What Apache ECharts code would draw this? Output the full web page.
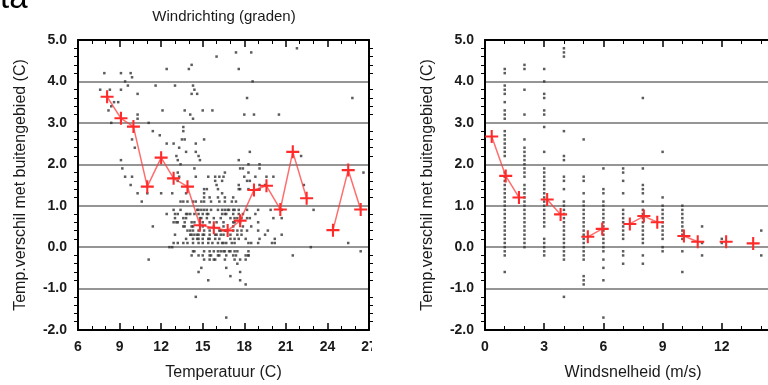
<!DOCTYPE html>
<html>
<head>
<meta charset="utf-8">
<script src="https://cdn.jsdelivr.net/npm/echarts@6/dist/echarts.min.js"></script>
<style>html,body{margin:0;padding:0;background:#fff;}#c{width:768px;height:385px;}</style>
</head>
<body>
<div id="c"></div>
<script>
// ---- Data ----
const tempTicks = [6, 9, 12, 15, 18, 21, 24, 27];
const windTicks = [0, 3, 6, 9, 12, 15];
const yTicks = [-2, -1, 0, 1, 2, 3, 4, 5];

// Left panel: bin means (temperature, difference); '-' = missing bin
const tempMeanX = [8.1, 9.1, 10.0, 11.0, 12.0, 12.9, 13.9, 14.8, 15.8, 16.8, 17.7, 18.7, 19.6, 20.6, 21.5, 22.5, 23.5, 24.4, 25.5, 26.4];
const tempMeanY = [3.63, 3.11, 2.91, 1.46, 2.16, 1.66, 1.46, 0.53, 0.47, 0.40, 0.64, 1.38, 1.48, 0.91, 2.30, 1.18, '-', 0.41, 1.86, 0.91];

// Left panel: individual observations [temperature, difference]
const tempDots = [
[16.0,4.6],[12.4,4.3],[14.0,4.3],[14.2,4.4],[7.9,4.2],[9.1,4.2],[9.8,4.2],[9.9,4.1],[9.4,4.0],[9.6,3.9],[11.6,3.9],[13.0,3.9],[14.3,3.9],
[7.6,3.8],[8.3,3.8],[9.1,3.8],[10.3,3.7],[14.2,3.7],[14.6,3.7],[14.4,3.8],[8.6,3.5],[8.9,3.5],[8.4,3.4],[8.2,3.3],[10.3,3.2],[10.3,3.1],
[12.1,3.3],[13.7,3.3],[14.1,3.2],[14.3,3.1],[15.0,3.3],[15.7,3.3],[8.4,3.0],[11.1,3.0],[13.6,2.9],[13.6,2.8],[11.4,2.8],[11.9,2.7],
[13.5,2.6],[13.7,2.6],[15.1,2.6],[12.4,2.5],[12.9,2.5],[14.5,2.5],[9.9,2.6],[10.1,2.4],[13.3,2.4],[13.8,2.3],[14.5,2.3],[14.7,2.2],
[14.8,2.1],[13.1,2.2],[13.2,2.1],[9.1,2.1],[9.2,1.9],[13.4,2.0],[9.4,1.7],[9.9,1.7],[9.8,1.5],[13.2,1.8],[13.3,1.7],[14.5,1.7],
[15.4,1.7],[15.9,1.7],[16.5,1.7],[14.4,1.9],[15.1,1.4],[15.3,1.4],[16.0,1.5],[16.1,1.4],
[17.4,4.7],[18.5,4.7],[21.8,4.8],[17.6,4.3],[18.6,4.0],[18.2,3.6],[25.8,3.6],[18.0,3.2],[18.7,3.2],[20.5,3.2],[18.4,2.3],[22.1,2.2],
[17.6,2.1],[17.7,1.9],[17.9,1.9],[18.3,2.0],[19.1,2.0],[19.1,1.9],[16.6,1.8],[16.2,1.7],[16.4,1.6],[18.3,1.8],[18.8,1.7],
[19.6,1.7],[20.1,1.7],[18.0,1.7],[18.2,1.6],[17.6,1.5],[17.7,1.4],[19.1,1.5],[19.1,1.4],[19.5,1.5],[26.6,1.8],[22.3,1.5],
[10.3,1.3],[10.6,1.1],[11.0,1.3],[12.0,1.3],[12.8,1.3],[13.2,1.6],[13.8,1.3],[15.1,1.3],[15.1,1.2],[15.9,1.6],[15.5,1.2],
[16.1,1.2],[16.4,1.3],[16.6,1.2],
[13.4,1.1],[13.6,1.1],[13.9,1.1],[14.3,1.1],[14.5,1.1],[14.9,1.1],[15.1,1.1],[15.6,1.1],[16.2,1.1],[16.6,1.1],
[11.4,0.5],[12.4,0.8],[13.0,0.8],[13.2,0.8],[13.8,0.8],[14.1,0.8],[14.4,0.8],[13.6,0.7],[13.7,0.6],[12.9,0.6],[13.1,0.6],[14.4,0.6],
[14.9,0.7],[15.3,0.8],[14.7,0.9],[14.9,0.9],[15.3,0.9],[15.6,0.9],[16.1,0.9],[16.6,0.9],
[13.7,0.5],[14.2,0.5],[13.9,0.4],[13.0,0.3],
[14.2,0.3],[14.4,0.3],[14.7,0.3],[15.1,0.3],[15.5,0.3],[15.9,0.3],[16.3,0.3],
[14.3,0.2],[14.7,0.2],[15.0,0.2],[15.5,0.2],[15.9,0.2],
[12.9,0.1],[13.2,0.1],[13.6,0.1],[13.9,0.1],[14.3,0.1],[14.7,0.1],[15.0,0.1],[15.4,0.1],[15.7,0.1],[16.1,0.1],[16.5,0.1],
[14.3,0.4],[14.7,0.4],[15.1,0.4],[15.5,0.4],[16.2,0.4],[16.6,0.4],
[14.4,-0.1],[15.1,-0.1],[15.5,-0.1],[16.1,-0.1],[16.5,-0.1],
[14.7,-0.2],[15.0,-0.2],[15.6,-0.2],[16.1,-0.2],[16.7,-0.2],
[11.1,-0.3],[15.1,-0.3],[15.9,-0.3],[16.6,-0.3],[14.9,-0.5],[14.7,-0.6],[15.4,-0.8],[14.5,-1.2],[16.7,-1.7],[12.6,0.0],[12.8,0.0],
[17.6,1.4],[17.2,1.2],[17.4,1.1],[17.1,1.1],[18.4,1.6],[18.3,1.4],
[16.4,0.9],[16.9,0.9],[17.2,0.9],[17.6,0.9],
[16.4,0.8],[16.7,0.8],[17.2,0.8],[17.6,0.8],[17.9,0.8],
[17.0,0.7],[17.3,0.7],[17.8,0.7],[18.2,0.7],
[16.5,0.6],[17.2,0.6],[17.7,0.6],[19.0,0.6],[18.4,0.7],[18.5,0.5],
[18.8,0.8],[19.9,0.9],[20.1,0.7],[20.7,0.7],[20.7,0.9],[23.0,0.9],
[16.3,0.4],[17.5,0.4],[17.8,0.4],[19.0,0.4],[19.7,0.4],
[19.1,0.2],[19.5,0.3],[20.2,0.2],[20.7,0.3],[17.0,0.3],[17.5,0.3],[17.8,0.3],[17.3,0.2],[18.1,0.2],
[16.4,0.1],[16.7,0.1],[17.1,0.1],[17.3,0.1],[18.3,0.1],[18.5,0.1],[19.0,0.1],[20.0,0.1],[20.2,0.1],[25.5,0.1],[22.8,0.0],[26.4,-0.1],
[16.3,-0.1],[16.6,-0.1],[17.0,-0.1],[17.3,-0.1],
[17.2,-0.2],[17.4,-0.2],[18.1,-0.2],[18.3,-0.2],
[17.3,-0.3],[18.1,-0.3],[21.5,-0.2],[16.7,-0.5],[17.5,-0.4],[17.7,-0.6],[17.0,-0.7],[17.7,-0.8],[18.1,-0.9],
[12.9,0.9],[13.4,0.9],[14.6,0.9],[15.1,0.9],[16.8,0.9],[17.3,0.9],[18.2,0.9],[19.0,0.9],
[13.9,0.8],[14.7,0.8],[15.0,0.8],[15.4,0.8],[16.6,0.8],
[13.0,0.7],[13.8,0.7],[14.8,0.7],[15.3,0.7],[15.8,0.7],[16.3,0.7],[17.5,0.7],
[13.2,0.6],[14.2,0.6],[15.0,0.6],[15.5,0.6],[16.0,0.6],[17.3,0.6],
[13.6,0.5],[14.3,0.5],[15.0,0.5],[15.8,0.5],[16.5,0.5],[17.2,0.5],[17.9,0.5],
[14.1,0.4],[16.7,0.4],[17.2,0.4],[18.2,0.4],
[14.1,0.3],[14.6,0.3],[15.0,0.3],[16.0,0.3],[16.5,0.3],
[13.8,0.2],[14.6,0.2],[15.4,0.2],[16.2,0.2],[17.0,0.2],[17.6,0.2],
[14.3,-0.1],[15.8,-0.1],[16.9,-0.1],[17.5,-0.1],[18.3,-0.1],
[14.2,-0.2],[15.5,-0.2],[16.2,-0.2],[18.3,-0.2],
[15.5,-0.3],[15.8,-0.3],[17.7,-0.3]
];

// Right panel: bin means (wind speed, difference); '-' = missing bin
const windMeanX = [0.34, 1.05, 1.72, 2.44, 3.15, 3.83, 4.52, 5.21, 5.94, 6.64, 7.34, 8.05, 8.73, 9.40, 10.08, 10.78, 11.50, 12.22, 12.90, 13.59];
const windMeanY = [2.67, 1.72, 1.20, '-', 1.15, 0.79, '-', 0.25, 0.44, '-', 0.56, 0.75, 0.60, '-', 0.27, 0.13, '-', 0.13, '-', 0.09];

// Right panel: individual observations per wind speed column
const windCols = [1, 2, 3, 4, 5, 6, 7, 8, 9, 10, 11, 12, 14];
const windColY = [
  [4.3,4.2,3.9,3.8,3.7,3.5,3.3,3.2,3.1,2.8,2.7,2.6,2.5,2.4,2.3,2.2,1.8,1.7,1.6,1.5,1.4,1.3,1.2,1.1,1.0,0.9,0.8,0.7,0.6,0.5,0.4,0.3,0.2,0.1,0.0,-0.1,-0.2,-0.6],
  [4.4,4.3,3.8,3.2,2.6,2.4,2.3,2.2,2.1,2.0,1.9,1.8,1.7,1.5,1.4,1.3,1.2,1.1,1.0,0.9,0.8,0.7,0.6,0.5,0.4,0.3,0.2,0.1,0.0],
  [4.3,4.0,3.7,3.6,3.3,3.2,2.9,2.3,1.9,1.8,1.7,1.6,1.5,1.4,1.3,1.2,1.1,1.0,0.9,0.8,0.7,0.6,0.5,0.2,0.1,0.0,-0.1,-0.2],
  [4.8,4.7,4.6,2.8,2.2,2.1,1.7,1.6,1.4,1.1,1.0,0.9,0.8,0.7,0.6,0.5,0.4,0.3,0.2,0.1,0.0,-0.1,-0.2,-0.3,-1.2],
  [2.6,1.7,1.6,1.3,1.1,1.0,0.9,0.8,0.7,0.6,0.5,0.4,0.3,0.2,0.1,0.0,-0.1,-0.2,-0.3,-0.7,-0.8,-0.9],
  [1.9,1.4,1.3,1.1,1.0,0.9,0.8,0.7,0.6,0.5,0.4,0.3,0.2,0.1,0.0,-0.1,-0.3,-0.5,-0.8,-1.7],
  [1.9,1.8,1.6,1.3,0.9,0.8,0.7,0.6,0.5,0.4,0.3,0.2,-0.1,-0.2,-0.4],
  [3.6,1.9,1.5,1.4,1.3,1.1,0.9,0.8,0.7,0.6,0.5,0.4,0.3,0.2,0.1,-0.2,-0.4],
  [2.3,1.2,1.0,0.9,0.8,0.7,0.6,0.5,0.4,0.3,0.2,0.0,-0.1],
  [1.0,0.9,0.8,0.7,0.6,0.5,0.4,0.3,0.2,-0.1,-0.6],
  [0.5,0.1,-0.2],
  [0.2,0.1],
  [0.4,-0.2]
];

// ---- Build ----
const FONT = 'Liberation Sans, Arial, sans-serif';
const TXT = '#1a1a1a';
const windDots = [];
windCols.forEach((x, i) => windColY[i].forEach(y => windDots.push([x, y])));
const tempMean = tempMeanX.map((x, i) => [x, tempMeanY[i]]);
const windMean = windMeanX.map((x, i) => [x, windMeanY[i]]);

const plus = 'path://M-1,-0.16H1V0.16H-1Z M-0.16,-1H0.16V1H-0.16Z';

function xAx(grid, pos, min, max, name, labels) {
  return {
    type: 'value', gridIndex: grid, position: pos, min: min, max: max, interval: 3,
    axisLine: { show: true, onZero: false, lineStyle: { color: '#000', width: 2 } },
    axisTick: { show: true, inside: true, length: 7, lineStyle: { color: '#000', width: 1.5 } },
    minorTick: { show: true, splitNumber: 3, length: 4, lineStyle: { color: '#000', width: 1 } },
    splitLine: { show: false },
    axisLabel: { show: labels, margin: 10, fontSize: 14, fontWeight: 'bold', color: TXT, fontFamily: FONT },
    name: labels ? name : '', nameLocation: 'middle', nameGap: 35,
    nameTextStyle: { fontSize: 16, color: TXT, fontFamily: FONT }
  };
}
function yAx(grid, pos, labels) {
  return {
    type: 'value', gridIndex: grid, position: pos, min: -2, max: 5, interval: 1,
    axisLine: { show: true, onZero: false, lineStyle: { color: '#000', width: 2 } },
    axisTick: { show: false },
    minorTick: { show: true, splitNumber: 5, length: 4, lineStyle: { color: '#000', width: 1 } },
    splitLine: { show: labels, lineStyle: { color: '#959595', width: 2 } },
    axisLabel: { show: labels, margin: 11, fontSize: 14, fontWeight: 'bold', color: TXT, fontFamily: FONT,
      formatter: v => v.toFixed(1) },
    name: labels ? 'Temp.verschil met buitengebied (C)' : '', nameLocation: 'middle', nameGap: 49,
    nameTextStyle: { fontSize: 16, color: TXT, fontFamily: FONT }
  };
}

const chart = echarts.init(document.getElementById('c'), null, { renderer: 'canvas' });
chart.setOption({
  animation: false,
  backgroundColor: '#fff',
  grid: [
    { left: 78, top: 40, width: 291, height: 290, outerBoundsMode: 'none', containLabel: false },
    { left: 485, top: 40, width: 296, height: 290, outerBoundsMode: 'none', containLabel: false }
  ],
  xAxis: [
    xAx(0, 'bottom', tempTicks[0], tempTicks[tempTicks.length - 1], 'Temperatuur (C)', true),
    xAx(0, 'top', tempTicks[0], tempTicks[tempTicks.length - 1], '', false),
    xAx(1, 'bottom', windTicks[0], windTicks[windTicks.length - 1], 'Windsnelheid (m/s)', true),
    xAx(1, 'top', windTicks[0], windTicks[windTicks.length - 1], '', false)
  ],
  yAxis: [
    yAx(0, 'left', true), yAx(0, 'right', false),
    yAx(1, 'left', true), yAx(1, 'right', false)
  ],
  series: [
    { type: 'scatter', xAxisIndex: 0, yAxisIndex: 0, data: tempDots, symbol: 'rect', symbolSize: 2.5,
      itemStyle: { color: '#333' }, silent: true },
    { type: 'scatter', xAxisIndex: 2, yAxisIndex: 2, data: windDots, symbol: 'rect', symbolSize: 2.5,
      itemStyle: { color: '#333' }, silent: true },
    { type: 'line', xAxisIndex: 0, yAxisIndex: 0, data: tempMean, connectNulls: false,
      symbol: plus, symbolSize: 13, showAllSymbol: true,
      lineStyle: { color: 'rgba(255,60,60,0.75)', width: 1.5 }, itemStyle: { color: '#ff2a2a' }, z: 5 },
    { type: 'line', xAxisIndex: 2, yAxisIndex: 2, data: windMean, connectNulls: false,
      symbol: plus, symbolSize: 13, showAllSymbol: true,
      lineStyle: { color: 'rgba(255,60,60,0.75)', width: 1.5 }, itemStyle: { color: '#ff2a2a' }, z: 5 }
  ],
  graphic: [
    { type: 'text', x: 224, y: 17, z: 10,
      style: { text: 'Windrichting (graden)', fontSize: 15, fontFamily: FONT, fill: TXT, align: 'center', verticalAlign: 'middle' } },
    { type: 'text', x: 0, y: 15, z: 10,
      style: { text: 'ta', fontSize: 33, fontFamily: FONT, fill: '#000', align: 'left', verticalAlign: 'bottom' } },
    { type: 'rect', shape: { x: 372, y: 334, width: 30, height: 30 }, z: 100, style: { fill: '#fff' } }
  ]
});
</script>
</body>
</html>
